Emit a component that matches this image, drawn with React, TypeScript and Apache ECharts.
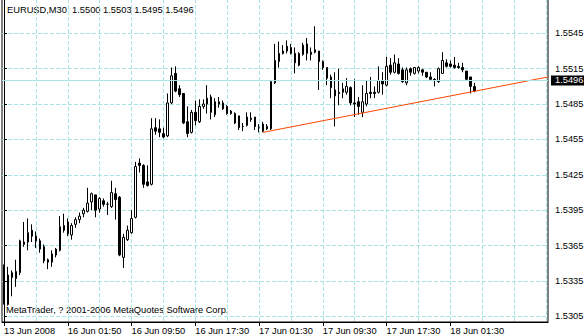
import React, { useEffect, useRef } from "react";
import * as echarts from "echarts";

// ---- data ----
const SYMBOL = "EURUSD,M30";
const COPYRIGHT = "MetaTrader, ? 2001-2006 MetaQuotes Software Corp.";
const X_LABELS = [
  "13 Jun 2008",
  "16 Jun 01:50",
  "16 Jun 09:50",
  "16 Jun 17:30",
  "17 Jun 01:30",
  "17 Jun 09:30",
  "17 Jun 17:30",
  "18 Jun 01:30",
];
const LABEL_EVERY = 16; // bars between time labels
const GRID_EVERY = 8; // bars between vertical grid lines
const SHIFT_BARS = 18; // empty space right of last bar

const OPEN = [
  1.5347, 1.5315, 1.5342, 1.5337, 1.5342, 1.5368, 1.5368, 1.5378, 1.5373, 1.5369,
  1.5364, 1.5353, 1.5351, 1.5357, 1.5361, 1.5382, 1.5385, 1.5374, 1.5383, 1.5387,
  1.5392, 1.5394, 1.5402, 1.5408, 1.5396, 1.5403, 1.5400, 1.5398, 1.5409, 1.5406,
  1.5355, 1.5370, 1.5376, 1.5389, 1.5435, 1.5433, 1.5419, 1.5417, 1.5465, 1.5464,
  1.5460, 1.5458, 1.5486, 1.5511, 1.5498, 1.5494, 1.5470, 1.5461, 1.5478, 1.5470,
  1.5483, 1.5485, 1.5491, 1.5476, 1.5485, 1.5486, 1.5483, 1.5479, 1.5477, 1.5475,
  1.5466, 1.5474, 1.5473, 1.5474, 1.5465, 1.5468, 1.5466, 1.5464, 1.5503, 1.5521,
  1.5530, 1.5534, 1.5533, 1.5528, 1.5518, 1.5527, 1.5536, 1.5527, 1.5531, 1.5530,
  1.5521, 1.5516, 1.5508, 1.5497, 1.5495, 1.5495, 1.5495, 1.5499, 1.5486, 1.5487,
  1.5478, 1.5485, 1.5495, 1.5495, 1.5495, 1.5505, 1.5501, 1.5518, 1.5512, 1.5519,
  1.5514, 1.5503, 1.5515, 1.5511, 1.5513, 1.5514, 1.5512, 1.5508, 1.5506, 1.5504,
  1.5511, 1.5520, 1.5519, 1.5518, 1.5517, 1.5516, 1.5513, 1.5508, 1.5500,
];
const HIGH = [
  1.5349, 1.5347, 1.5344, 1.5353, 1.5370, 1.5385, 1.5388, 1.5383, 1.5377, 1.5371,
  1.5366, 1.5354, 1.5361, 1.5363, 1.5390, 1.5392, 1.5388, 1.5384, 1.5389, 1.5393,
  1.5397, 1.5414, 1.5410, 1.5408, 1.5406, 1.5405, 1.5402, 1.5420, 1.5414, 1.5407,
  1.5375, 1.5382, 1.5395, 1.5436, 1.5439, 1.5434, 1.5433, 1.5473, 1.5473, 1.5472,
  1.5465, 1.5494, 1.5516, 1.5517, 1.5501, 1.5494, 1.5483, 1.5480, 1.5488, 1.5489,
  1.5489, 1.5501, 1.5493, 1.5490, 1.5491, 1.5488, 1.5484, 1.5480, 1.5478, 1.5475,
  1.5469, 1.5478, 1.5478, 1.5474, 1.5468, 1.5470, 1.5468, 1.5505, 1.5536, 1.5538,
  1.5535, 1.5539, 1.5536, 1.5533, 1.5529, 1.5537, 1.5541, 1.5533, 1.5551, 1.5530,
  1.5522, 1.5516, 1.5510, 1.5512, 1.5515, 1.5503, 1.5507, 1.5500, 1.5506, 1.5491,
  1.5501, 1.5505, 1.5508, 1.5500, 1.5517, 1.5512, 1.5525, 1.5524, 1.5527, 1.5524,
  1.5516, 1.5516, 1.5516, 1.5516, 1.5517, 1.5515, 1.5512, 1.5512, 1.5507, 1.5516,
  1.5529, 1.5523, 1.5522, 1.5525, 1.5520, 1.5520, 1.5513, 1.5508, 1.5503,
];
const LOW = [
  1.5315, 1.5314, 1.5322, 1.5330, 1.5340, 1.5364, 1.5361, 1.5368, 1.5363, 1.5359,
  1.5350, 1.5345, 1.5347, 1.5355, 1.5360, 1.5376, 1.5373, 1.5370, 1.5380, 1.5384,
  1.5389, 1.5393, 1.5395, 1.5389, 1.5393, 1.5398, 1.5391, 1.5397, 1.5387, 1.5356,
  1.5346, 1.5369, 1.5375, 1.5388, 1.5427, 1.5414, 1.5415, 1.5416, 1.5459, 1.5457,
  1.5456, 1.5457, 1.5485, 1.5495, 1.5491, 1.5468, 1.5457, 1.5460, 1.5467, 1.5469,
  1.5481, 1.5477, 1.5472, 1.5474, 1.5482, 1.5480, 1.5476, 1.5476, 1.5468, 1.5463,
  1.5462, 1.5466, 1.5470, 1.5463, 1.5461, 1.5461, 1.5463, 1.5463, 1.5502, 1.5516,
  1.5527, 1.5528, 1.5527, 1.5511, 1.5517, 1.5526, 1.5522, 1.5522, 1.5528, 1.5497,
  1.5514, 1.5501, 1.5490, 1.5466, 1.5484, 1.5490, 1.5493, 1.5484, 1.5474, 1.5476,
  1.5474, 1.5483, 1.5490, 1.5490, 1.5494, 1.5493, 1.5500, 1.5510, 1.5511, 1.5510,
  1.5503, 1.5501, 1.5509, 1.5510, 1.5511, 1.5509, 1.5507, 1.5505, 1.5500, 1.5503,
  1.5511, 1.5516, 1.5516, 1.5515, 1.5515, 1.5512, 1.5505, 1.5494, 1.5495,
];
const CLOSE = [
  1.5316, 1.5340, 1.5338, 1.5343, 1.5369, 1.5366, 1.5376, 1.5373, 1.5369, 1.5362,
  1.5352, 1.5351, 1.5358, 1.5362, 1.5381, 1.5378, 1.5375, 1.5382, 1.5387, 1.5390,
  1.5395, 1.5401, 1.5409, 1.5395, 1.5405, 1.5400, 1.5400, 1.5410, 1.5404, 1.5357,
  1.5372, 1.5378, 1.5388, 1.5432, 1.5433, 1.5417, 1.5416, 1.5464, 1.5462, 1.5461,
  1.5457, 1.5486, 1.5509, 1.5496, 1.5493, 1.5469, 1.5460, 1.5478, 1.5471, 1.5483,
  1.5485, 1.5490, 1.5478, 1.5487, 1.5487, 1.5481, 1.5477, 1.5477, 1.5469, 1.5465,
  1.5466, 1.5467, 1.5472, 1.5466, 1.5465, 1.5462, 1.5464, 1.5504, 1.5522, 1.5528,
  1.5528, 1.5530, 1.5528, 1.5520, 1.5528, 1.5535, 1.5528, 1.5529, 1.5529, 1.5521,
  1.5516, 1.5507, 1.5499, 1.5492, 1.5494, 1.5498, 1.5500, 1.5486, 1.5485, 1.5483,
  1.5487, 1.5494, 1.5494, 1.5494, 1.5505, 1.5502, 1.5517, 1.5512, 1.5520, 1.5511,
  1.5504, 1.5514, 1.5512, 1.5516, 1.5516, 1.5512, 1.5508, 1.5506, 1.5505, 1.5515,
  1.5522, 1.5517, 1.5517, 1.5516, 1.5516, 1.5514, 1.5506, 1.5500, 1.5496,
];

// trend line anchors: [bar index, price]
const TREND_BARS = [65, 136.5];
const TREND_PRICES = [1.5461, 1.5508];

// price scale
const Y_MIN = 1.53002;
const Y_MAX = 1.55741;
const Y_STEP = 0.003;
const Y_TICK_BASE = 1.5305; // first labelled price
// ECharts places nice ticks at multiples of the step, so values are offset so
// that the labelled prices land on those multiples; labels add it back.
const OFFSET = Math.round(Y_TICK_BASE / Y_STEP) * Y_STEP - Y_TICK_BASE;

const FONT = '"Liberation Sans", Arial, sans-serif';
const FS = 9.3;
const GRID_COLOR = "#a8e4e4";

export default function App() {
  const ref = useRef<HTMLDivElement>(null);

  useEffect(() => {
    if (!ref.current) return;
    const chart = echarts.init(ref.current, null, { renderer: "svg" });
    const n = OPEN.length;
    const slots = n + SHIFT_BARS;
    const categories = Array.from({ length: slots }, (_, i) => String(i));
    const candles = OPEN.map((o, i) => [
      o + OFFSET,
      CLOSE[i] + OFFSET,
      LOW[i] + OFFSET,
      HIGH[i] + OFFSET,
    ]);
    const trend = TREND_BARS.map((b, i) => [b, TREND_PRICES[i] + OFFSET]);
    const last = n - 1;
    const header = `${SYMBOL}  ${OPEN[last].toFixed(4)} ${HIGH[last].toFixed(4)} ${LOW[last].toFixed(4)} ${CLOSE[last].toFixed(4)}`;

    const option: any = {
      animation: false,
      backgroundColor: "#ffffff",
      textStyle: { fontFamily: FONT },
      grid: {
        left: 2,
        right: 36,
        top: -1,
        bottom: 14,
        show: true,
        borderColor: "#000",
        borderWidth: 1,
        containLabel: false,
        outerBoundsMode: "none",
      },
      xAxis: [
        {
          type: "category",
          data: categories,
          boundaryGap: true,
          axisLine: { show: true, lineStyle: { color: "#000", width: 1 } },
          axisTick: {
            show: true,
            length: 4,
            alignWithLabel: true,
            interval: (i: number) => i % LABEL_EVERY === 0 && i / LABEL_EVERY < X_LABELS.length,
            lineStyle: { color: "#000" },
          },
          axisLabel: {
            show: true,
            interval: (i: number) => i % LABEL_EVERY === 0 && i / LABEL_EVERY < X_LABELS.length,
            formatter: (_v: string, i: number) => X_LABELS[i / LABEL_EVERY] ?? "",
            align: "left",
            margin: 4,
            color: "#000",
            fontFamily: FONT,
            fontSize: FS,
          },
          splitLine: {
            show: true,
            alignWithLabel: true,
            interval: (i: number) => i > 0 && i % GRID_EVERY === 0,
            lineStyle: { color: GRID_COLOR, type: [4, 2], width: 1 },
          },
        },
        {
          type: "value",
          min: -0.5,
          max: slots - 0.5,
          show: false,
          splitLine: { show: false },
        },
      ],
      yAxis: {
        type: "value",
        position: "right",
        min: Y_MIN + OFFSET,
        max: Y_MAX + OFFSET,
        minInterval: Y_STEP,
        maxInterval: Y_STEP,
        scale: true,
        axisLine: { show: true, lineStyle: { color: "#000", width: 1 } },
        axisTick: { show: true, length: 3, lineStyle: { color: "#000" } },
        axisLabel: {
          show: true,
          margin: 7,
          color: "#000",
          fontFamily: FONT,
          fontSize: FS,
          showMinLabel: false,
          showMaxLabel: false,
          formatter: (v: number) => {
            const k = v / Y_STEP;
            if (Math.abs(k - Math.round(k)) > 1e-6) return "";
            return (v - OFFSET).toFixed(4);
          },
        },
        splitLine: {
          show: true,
          lineStyle: { color: GRID_COLOR, type: [4, 2], width: 1 },
        },
      },
      graphic: [
        {
          type: "text",
          left: 7,
          top: 5,
          style: { text: header, fill: "#000", font: `${FS}px ${FONT}` },
        },
        {
          type: "text",
          left: 6,
          top: 305,
          style: { text: COPYRIGHT, fill: "#000", font: `${FS}px ${FONT}` },
        },
      ],
      series: [
        {
          name: "bid",
          type: "line",
          xAxisIndex: 0,
          yAxisIndex: 0,
          data: [],
          z: 1,
          clip: false,
          silent: true,
          markLine: {
            silent: true,
            symbol: ["none", "none"],
            lineStyle: { color: GRID_COLOR, type: "solid", width: 1 },
            label: {
              show: true,
              position: "end",
              distance: 3,
              formatter: () => CLOSE[last].toFixed(4),
              backgroundColor: "#000",
              color: "#fff",
              padding: [1, 4, 0, 4],
              fontFamily: FONT,
              fontSize: FS,
            },
            data: [{ yAxis: CLOSE[last] + OFFSET }],
          },
        },
        {
          name: SYMBOL,
          type: "candlestick",
          xAxisIndex: 0,
          yAxisIndex: 0,
          data: candles,
          barWidth: 2,
          z: 3,
          silent: true,
          itemStyle: {
            color: "#ffffff",
            color0: "#000000",
            borderColor: "#000000",
            borderColor0: "#000000",
            borderWidth: 1,
          },
        },
        {
          name: "trend",
          type: "line",
          xAxisIndex: 1,
          yAxisIndex: 0,
          data: trend,
          symbol: "none",
          z: 4,
          silent: true,
          lineStyle: { color: "#ff4500", width: 1 },
        },
      ],
    };
    chart.setOption(option);
    return () => chart.dispose();
  }, []);

  return (
    <div
      ref={ref}
      style={{
        position: "fixed",
        left: 0,
        top: 0,
        width: 584,
        height: 336,
        background: "#fff",
      }}
    />
  );
}
